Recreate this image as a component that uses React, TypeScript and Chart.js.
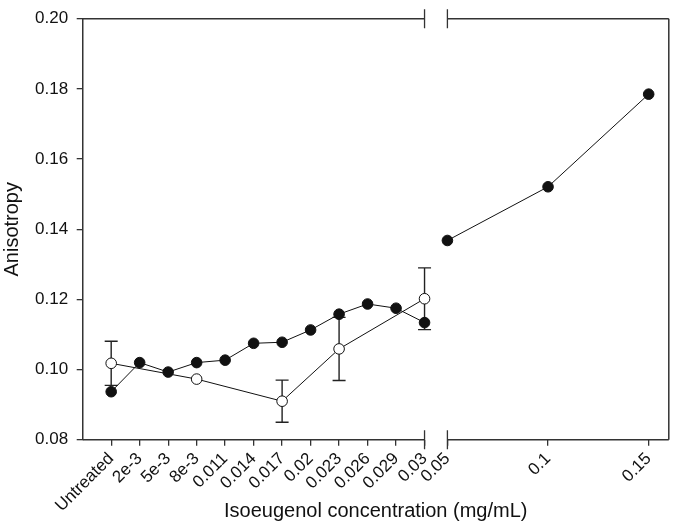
import React, { useEffect, useRef } from "react";
import { Chart, registerables } from "chart.js";

Chart.register(...registerables);

// ---- data ----
const leftLabels = ["Untreated", "2e-3", "5e-3", "8e-3", "0.011", "0.014", "0.017", "0.02", "0.023", "0.026", "0.029", "0.03"];
const filledLeft = [0.0937, 0.102, 0.0993, 0.102, 0.1027, 0.1075, 0.1078, 0.1113, 0.1158, 0.1187, 0.1175, 0.1134];
const openLeft: (number | null)[] = [0.1018, null, null, 0.0973, null, null, 0.091, null, 0.1059, null, null, 0.1202];
const openErr: (number | null)[] = [0.0063, null, null, 0, null, null, 0.006, null, 0.009, null, null, 0.0088];
const rightConc = [0.05, 0.1, 0.15];
const rightLabels = ["0.05", "0.1", "0.15"];
const filledRight = [0.1368, 0.1521, 0.1785];
const yTicks = [0.08, 0.1, 0.12, 0.14, 0.16, 0.18, 0.2];

const FONT = "'Liberation Sans', Arial, Helvetica, sans-serif";
const INK = "#111";
const FRAME = "#333";

const errorBars = {
  id: "errorBars",
  beforeDatasetsDraw(chart: any) {
    const ctx = chart.ctx;
    const y = chart.scales.y;
    chart.data.datasets.forEach((ds: any, i: number) => {
      const errs = ds.errors;
      if (!errs) return;
      const meta = chart.getDatasetMeta(i);
      meta.data.forEach((pt: any, j: number) => {
        const e = errs[j];
        if (!e) return;
        const v = ds.data[j].y;
        const top = y.getPixelForValue(v + e);
        const bot = y.getPixelForValue(v - e);
        ctx.save();
        ctx.strokeStyle = "#222";
        ctx.lineWidth = 1.4;
        ctx.beginPath();
        ctx.moveTo(pt.x, top);
        ctx.lineTo(pt.x, bot);
        ctx.moveTo(pt.x - 6.5, top);
        ctx.lineTo(pt.x + 6.5, top);
        ctx.moveTo(pt.x - 6.5, bot);
        ctx.lineTo(pt.x + 6.5, bot);
        ctx.stroke();
        ctx.restore();
      });
    });
  },
};

const brokenFrame = {
  id: "brokenFrame",
  beforeDatasetsDraw(chart: any) {
    const ctx = chart.ctx;
    const { left, right, top, bottom } = chart.chartArea;
    const b1 = chart.scales.x.getPixelForValue(leftLabels.length - 1);
    const b2 = chart.scales.x2.getPixelForValue(rightConc[0]);
    ctx.save();
    ctx.strokeStyle = FRAME;
    ctx.lineWidth = 1.5;
    ctx.beginPath();
    for (const yy of [top, bottom]) {
      ctx.moveTo(left, yy);
      ctx.lineTo(b1, yy);
      ctx.moveTo(b2, yy);
      ctx.lineTo(right, yy);
    }
    ctx.moveTo(right, top);
    ctx.lineTo(right, bottom);
    ctx.stroke();
    ctx.lineWidth = 1.3;
    ctx.beginPath();
    for (const yy of [top, bottom]) {
      for (const bx of [b1, b2]) {
        ctx.moveTo(bx, yy - 9.5);
        ctx.lineTo(bx, yy + 9.5);
      }
    }
    ctx.stroke();
    ctx.restore();
  },
};

export default function App() {
  const ref = useRef<HTMLCanvasElement | null>(null);

  useEffect(() => {
    if (!ref.current) return;
    Chart.defaults.font.family = FONT;
    Chart.defaults.color = INK;

    const filledLeftData = filledLeft.map((v, i) => ({ x: i, y: v }));
    const openData: { x: number; y: number }[] = [];
    const openErrs: number[] = [];
    openLeft.forEach((v, i) => {
      if (v !== null) {
        openData.push({ x: i, y: v });
        openErrs.push(openErr[i] ?? 0);
      }
    });
    const filledRightData = filledRight.map((v, i) => ({ x: rightConc[i], y: v }));

    const pointStyle = {
      borderColor: INK,
      borderWidth: 1,
      pointRadius: 5.3,
      pointBorderWidth: 1,
      pointBorderColor: INK,
      pointHoverRadius: 5.3,
      tension: 0,
      fill: false,
    };

    const xCommon = {
      type: "linear" as const,
      position: "bottom" as const,
      stack: "xs",
      afterFit: (s: any) => {
        s.height = 72;
      },
      grid: { drawOnChartArea: false, drawTicks: true, tickLength: 6, color: FRAME, lineWidth: 1.3 },
      border: { display: false },
    };

    const chart = new Chart(ref.current, {
      type: "line",
      data: {
        datasets: [
          { ...pointStyle, label: "filled", data: filledLeftData, xAxisID: "x", pointBackgroundColor: INK } as any,
          { ...pointStyle, label: "open", data: openData, errors: openErrs, xAxisID: "x", pointBackgroundColor: "#fff" } as any,
          { ...pointStyle, label: "filled high", data: filledRightData, xAxisID: "x2", pointBackgroundColor: INK } as any,
        ],
      },
      options: {
        animation: false,
        responsive: false,
        events: [],
        layout: { padding: { left: 0, right: 2.7, top: 11.7, bottom: 0 } },
        plugins: {
          legend: { display: false },
          tooltip: { enabled: false },
          title: {
            display: true,
            text: "Isoeugenol concentration (mg/mL)",
            position: "bottom",
            fullSize: false,
            color: INK,
            font: { size: 20, weight: "normal" },
            padding: { top: -12.4, bottom: 1.6 },
          },
        },
        scales: {
          x: {
            ...xCommon,
            stackWeight: 358,
            min: -1,
            max: 11.4,
            afterBuildTicks: (s: any) => {
              s.ticks = leftLabels.map((_, i) => ({ value: i }));
            },
            ticks: {
              autoSkip: false,
              minRotation: 45,
              maxRotation: 45,
              padding: 3,
              color: INK,
              font: { size: 17 },
              callback: (v: any) => leftLabels[Math.round(Number(v))],
            },
          },
          x2: {
            ...xCommon,
            stackWeight: 236,
            min: 0.0443,
            max: 0.16,
            afterBuildTicks: (s: any) => {
              s.ticks = rightConc.map((v) => ({ value: v }));
            },
            ticks: {
              autoSkip: false,
              minRotation: 45,
              maxRotation: 45,
              padding: 3,
              color: INK,
              font: { size: 17 },
              callback: (v: any) => rightLabels[rightConc.indexOf(Number(v))],
            },
          },
          y: {
            type: "linear",
            position: "left",
            min: 0.08,
            max: 0.2,
            afterBuildTicks: (s: any) => {
              s.ticks = yTicks.map((v) => ({ value: v }));
            },
            afterFit: (s: any) => {
              s.width = 82.7;
            },
            ticks: {
              padding: 8.5,
              color: INK,
              font: { size: 17 },
              callback: (v: any) => Number(v).toFixed(2),
            },
            grid: { drawOnChartArea: false, drawTicks: true, tickLength: 6, color: FRAME, lineWidth: 1.3 },
            border: { display: true, color: FRAME, width: 1.5 },
            title: {
              display: true,
              text: "Anisotropy",
              color: INK,
              font: { size: 20 },
              padding: { top: 0, bottom: 0 },
            },
          },
        },
      } as any,
      plugins: [errorBars, brokenFrame],
    });

    return () => chart.destroy();
  }, []);

  return (
    <div style={{ position: "absolute", left: 0, top: 0, width: 680, height: 525, background: "#fff" }}>
      <canvas ref={ref} width={680} height={525} style={{ width: 680, height: 525, display: "block" }} />
    </div>
  );
}
